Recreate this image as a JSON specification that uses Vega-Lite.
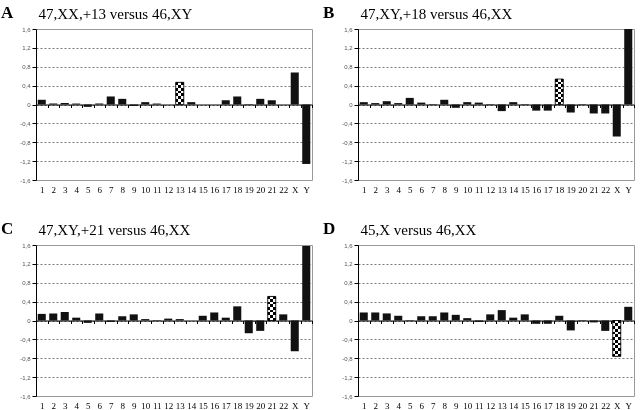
{
  "$schema": "https://vega.github.io/schema/vega-lite/v6.json",
  "autosize": {"type": "pad"},
  "padding": {"left": 0, "top": 3, "right": 0, "bottom": 0},
  "background": "white",
  "datasets": {
    "A": [
      {"chr": "1", "v": 0.10}, {"chr": "2", "v": 0.02}, {"chr": "3", "v": 0.03}, {"chr": "4", "v": 0.02},
      {"chr": "5", "v": -0.05}, {"chr": "6", "v": 0.02}, {"chr": "7", "v": 0.17}, {"chr": "8", "v": 0.12},
      {"chr": "9", "v": -0.03}, {"chr": "10", "v": 0.05}, {"chr": "11", "v": 0.02}, {"chr": "12", "v": 0.0},
      {"chr": "13", "v": 0.47}, {"chr": "14", "v": 0.05}, {"chr": "15", "v": 0.0}, {"chr": "16", "v": 0.0},
      {"chr": "17", "v": 0.09}, {"chr": "18", "v": 0.17}, {"chr": "19", "v": -0.01}, {"chr": "20", "v": 0.12},
      {"chr": "21", "v": 0.09}, {"chr": "22", "v": 0.0}, {"chr": "X", "v": 0.68}, {"chr": "Y", "v": -1.26}
    ],
    "B": [
      {"chr": "1", "v": 0.05}, {"chr": "2", "v": 0.03}, {"chr": "3", "v": 0.07}, {"chr": "4", "v": 0.03},
      {"chr": "5", "v": 0.14}, {"chr": "6", "v": 0.04}, {"chr": "7", "v": 0.01}, {"chr": "8", "v": 0.10},
      {"chr": "9", "v": -0.07}, {"chr": "10", "v": 0.05}, {"chr": "11", "v": 0.04}, {"chr": "12", "v": 0.01},
      {"chr": "13", "v": -0.14}, {"chr": "14", "v": 0.05}, {"chr": "15", "v": 0.01}, {"chr": "16", "v": -0.13},
      {"chr": "17", "v": -0.13}, {"chr": "18", "v": 0.54}, {"chr": "19", "v": -0.17}, {"chr": "20", "v": 0.01},
      {"chr": "21", "v": -0.19}, {"chr": "22", "v": -0.19}, {"chr": "X", "v": -0.68}, {"chr": "Y", "v": 1.6}
    ],
    "C": [
      {"chr": "1", "v": 0.14}, {"chr": "2", "v": 0.15}, {"chr": "3", "v": 0.18}, {"chr": "4", "v": 0.06},
      {"chr": "5", "v": -0.05}, {"chr": "6", "v": 0.15}, {"chr": "7", "v": -0.03}, {"chr": "8", "v": 0.09},
      {"chr": "9", "v": 0.13}, {"chr": "10", "v": 0.03}, {"chr": "11", "v": 0.01}, {"chr": "12", "v": 0.04},
      {"chr": "13", "v": 0.03}, {"chr": "14", "v": 0.0}, {"chr": "15", "v": 0.10}, {"chr": "16", "v": 0.17},
      {"chr": "17", "v": 0.06}, {"chr": "18", "v": 0.30}, {"chr": "19", "v": -0.27}, {"chr": "20", "v": -0.22},
      {"chr": "21", "v": 0.51}, {"chr": "22", "v": 0.13}, {"chr": "X", "v": -0.65}, {"chr": "Y", "v": 1.58}
    ],
    "D": [
      {"chr": "1", "v": 0.17}, {"chr": "2", "v": 0.17}, {"chr": "3", "v": 0.15}, {"chr": "4", "v": 0.10},
      {"chr": "5", "v": -0.01}, {"chr": "6", "v": 0.09}, {"chr": "7", "v": 0.09}, {"chr": "8", "v": 0.17},
      {"chr": "9", "v": 0.12}, {"chr": "10", "v": 0.05}, {"chr": "11", "v": -0.03}, {"chr": "12", "v": 0.13},
      {"chr": "13", "v": 0.22}, {"chr": "14", "v": 0.06}, {"chr": "15", "v": 0.13}, {"chr": "16", "v": -0.07},
      {"chr": "17", "v": -0.07}, {"chr": "18", "v": 0.10}, {"chr": "19", "v": -0.21}, {"chr": "20", "v": 0.01},
      {"chr": "21", "v": -0.04}, {"chr": "22", "v": -0.22}, {"chr": "X", "v": -0.76}, {"chr": "Y", "v": 0.29}
    ]
  },
  "columns": 2,
  "spacing": {"row": 65, "column": 46},
  "bounds": "flush",
  "concat": [
    {
      "width": 276, "height": 151,
      "data": {"name": "A"},
      "title": {"text": "A", "subtitle": "\u200b\u00a0\u00a0\u00a0\u00a0\u00a0\u00a0\u00a0\u00a0\u00a0\u00a047,XX,+13 versus 46,XY"},
      "encoding": {
        "x": {"field": "chr", "type": "ordinal", "sort": null, "scale": {"domain": ["1","2","3","4","5","6","7","8","9","10","11","12","13","14","15","16","17","18","19","20","21","22","X","Y"], "paddingInner": 0, "paddingOuter": 0}, "axis": {"title": null}},
        "y": {"field": "v", "type": "quantitative", "scale": {"domain": [-1.6, 1.6], "nice": false, "zero": false}, "axis": {"title": null, "values": [-1.6, -1.2, -0.8, -0.4, 0, 0.4, 0.8, 1.2, 1.6], "labelExpr": "datum.value == 0 ? '0' : (datum.value < 0 ? '-' : '') + replace(format(abs(datum.value), '.1f'), '.', ',')", "gridOpacity": {"condition": {"test": "abs(datum.value) > 1.5", "value": 0}, "value": 1}}}
      },
      "layer": [
        {"mark": {"type": "bar", "color": "#111", "width": {"band": 0.7}}},
        {"transform": [{"filter": "datum.chr == '13'"}],
         "mark": {"type": "bar", "width": {"band": 0.7}, "fill": {"gradient": "linear", "x1": 0, "y1": 0, "x2": 0, "y2": 1, "stops": [
           {"offset": 0, "color": "#000"}, {"offset": 0.125, "color": "#000"}, {"offset": 0.125, "color": "#fff"}, {"offset": 0.25, "color": "#fff"},
           {"offset": 0.25, "color": "#000"}, {"offset": 0.375, "color": "#000"}, {"offset": 0.375, "color": "#fff"}, {"offset": 0.5, "color": "#fff"},
           {"offset": 0.5, "color": "#000"}, {"offset": 0.625, "color": "#000"}, {"offset": 0.625, "color": "#fff"}, {"offset": 0.75, "color": "#fff"},
           {"offset": 0.75, "color": "#000"}, {"offset": 0.875, "color": "#000"}, {"offset": 0.875, "color": "#fff"}, {"offset": 1, "color": "#fff"}]}}},
        {"transform": [{"filter": "datum.chr == '13'"}],
         "mark": {"type": "bar", "width": {"band": 0.7}, "blend": "difference", "fill": {"gradient": "linear", "x1": 0, "y1": 0, "x2": 1, "y2": 0, "stops": [
           {"offset": 0, "color": "#000"}, {"offset": 0.3333, "color": "#000"}, {"offset": 0.3333, "color": "#fff"}, {"offset": 0.6667, "color": "#fff"}, {"offset": 0.6667, "color": "#000"}, {"offset": 1, "color": "#000"}]}}},
        {"transform": [{"filter": "datum.chr == '13'"}],
         "mark": {"type": "bar", "width": {"band": 0.7}, "fillOpacity": 0, "stroke": "#000", "strokeWidth": 0.8}}
      ]
    },
    {
      "width": 276, "height": 151,
      "data": {"name": "B"},
      "title": {"text": "B", "subtitle": "\u200b\u00a0\u00a0\u00a0\u00a0\u00a0\u00a0\u00a0\u00a0\u00a0\u00a047,XY,+18 versus 46,XX"},
      "encoding": {
        "x": {"field": "chr", "type": "ordinal", "sort": null, "scale": {"domain": ["1","2","3","4","5","6","7","8","9","10","11","12","13","14","15","16","17","18","19","20","21","22","X","Y"], "paddingInner": 0, "paddingOuter": 0}, "axis": {"title": null}},
        "y": {"field": "v", "type": "quantitative", "scale": {"domain": [-1.6, 1.6], "nice": false, "zero": false}, "axis": {"title": null, "values": [-1.6, -1.2, -0.8, -0.4, 0, 0.4, 0.8, 1.2, 1.6], "labelExpr": "datum.value == 0 ? '0' : (datum.value < 0 ? '-' : '') + replace(format(abs(datum.value), '.1f'), '.', ',')", "gridOpacity": {"condition": {"test": "abs(datum.value) > 1.5", "value": 0}, "value": 1}}}
      },
      "layer": [
        {"mark": {"type": "bar", "color": "#111", "width": {"band": 0.7}}},
        {"transform": [{"filter": "datum.chr == '18'"}],
         "mark": {"type": "bar", "width": {"band": 0.7}, "fill": {"gradient": "linear", "x1": 0, "y1": 0, "x2": 0, "y2": 1, "stops": [
           {"offset": 0, "color": "#000"}, {"offset": 0.1, "color": "#000"}, {"offset": 0.1, "color": "#fff"}, {"offset": 0.2, "color": "#fff"},
           {"offset": 0.2, "color": "#000"}, {"offset": 0.3, "color": "#000"}, {"offset": 0.3, "color": "#fff"}, {"offset": 0.4, "color": "#fff"},
           {"offset": 0.4, "color": "#000"}, {"offset": 0.5, "color": "#000"}, {"offset": 0.5, "color": "#fff"}, {"offset": 0.6, "color": "#fff"},
           {"offset": 0.6, "color": "#000"}, {"offset": 0.7, "color": "#000"}, {"offset": 0.7, "color": "#fff"}, {"offset": 0.8, "color": "#fff"},
           {"offset": 0.8, "color": "#000"}, {"offset": 0.9, "color": "#000"}, {"offset": 0.9, "color": "#fff"}, {"offset": 1, "color": "#fff"}]}}},
        {"transform": [{"filter": "datum.chr == '18'"}],
         "mark": {"type": "bar", "width": {"band": 0.7}, "blend": "difference", "fill": {"gradient": "linear", "x1": 0, "y1": 0, "x2": 1, "y2": 0, "stops": [
           {"offset": 0, "color": "#000"}, {"offset": 0.3333, "color": "#000"}, {"offset": 0.3333, "color": "#fff"}, {"offset": 0.6667, "color": "#fff"}, {"offset": 0.6667, "color": "#000"}, {"offset": 1, "color": "#000"}]}}},
        {"transform": [{"filter": "datum.chr == '18'"}],
         "mark": {"type": "bar", "width": {"band": 0.7}, "fillOpacity": 0, "stroke": "#000", "strokeWidth": 0.8}}
      ]
    },
    {
      "width": 276, "height": 151,
      "data": {"name": "C"},
      "title": {"text": "C", "subtitle": "\u200b\u00a0\u00a0\u00a0\u00a0\u00a0\u00a0\u00a0\u00a0\u00a0\u00a047,XY,+21 versus 46,XX"},
      "encoding": {
        "x": {"field": "chr", "type": "ordinal", "sort": null, "scale": {"domain": ["1","2","3","4","5","6","7","8","9","10","11","12","13","14","15","16","17","18","19","20","21","22","X","Y"], "paddingInner": 0, "paddingOuter": 0}, "axis": {"title": null}},
        "y": {"field": "v", "type": "quantitative", "scale": {"domain": [-1.6, 1.6], "nice": false, "zero": false}, "axis": {"title": null, "values": [-1.6, -1.2, -0.8, -0.4, 0, 0.4, 0.8, 1.2, 1.6], "labelExpr": "datum.value == 0 ? '0' : (datum.value < 0 ? '-' : '') + replace(format(abs(datum.value), '.1f'), '.', ',')", "gridOpacity": {"condition": {"test": "abs(datum.value) > 1.5", "value": 0}, "value": 1}}}
      },
      "layer": [
        {"mark": {"type": "bar", "color": "#111", "width": {"band": 0.7}}},
        {"transform": [{"filter": "datum.chr == '21'"}],
         "mark": {"type": "bar", "width": {"band": 0.7}, "fill": {"gradient": "linear", "x1": 0, "y1": 0, "x2": 0, "y2": 1, "stops": [
           {"offset": 0, "color": "#000"}, {"offset": 0.1111, "color": "#000"}, {"offset": 0.1111, "color": "#fff"}, {"offset": 0.2222, "color": "#fff"},
           {"offset": 0.2222, "color": "#000"}, {"offset": 0.3333, "color": "#000"}, {"offset": 0.3333, "color": "#fff"}, {"offset": 0.4444, "color": "#fff"},
           {"offset": 0.4444, "color": "#000"}, {"offset": 0.5556, "color": "#000"}, {"offset": 0.5556, "color": "#fff"}, {"offset": 0.6667, "color": "#fff"},
           {"offset": 0.6667, "color": "#000"}, {"offset": 0.7778, "color": "#000"}, {"offset": 0.7778, "color": "#fff"}, {"offset": 0.8889, "color": "#fff"},
           {"offset": 0.8889, "color": "#000"}, {"offset": 1, "color": "#000"}]}}},
        {"transform": [{"filter": "datum.chr == '21'"}],
         "mark": {"type": "bar", "width": {"band": 0.7}, "blend": "difference", "fill": {"gradient": "linear", "x1": 0, "y1": 0, "x2": 1, "y2": 0, "stops": [
           {"offset": 0, "color": "#000"}, {"offset": 0.3333, "color": "#000"}, {"offset": 0.3333, "color": "#fff"}, {"offset": 0.6667, "color": "#fff"}, {"offset": 0.6667, "color": "#000"}, {"offset": 1, "color": "#000"}]}}},
        {"transform": [{"filter": "datum.chr == '21'"}],
         "mark": {"type": "bar", "width": {"band": 0.7}, "fillOpacity": 0, "stroke": "#000", "strokeWidth": 0.8}}
      ]
    },
    {
      "width": 276, "height": 151,
      "data": {"name": "D"},
      "title": {"text": "D", "subtitle": "\u200b\u00a0\u00a0\u00a0\u00a0\u00a0\u00a0\u00a0\u00a0\u00a0\u00a045,X versus 46,XX"},
      "encoding": {
        "x": {"field": "chr", "type": "ordinal", "sort": null, "scale": {"domain": ["1","2","3","4","5","6","7","8","9","10","11","12","13","14","15","16","17","18","19","20","21","22","X","Y"], "paddingInner": 0, "paddingOuter": 0}, "axis": {"title": null}},
        "y": {"field": "v", "type": "quantitative", "scale": {"domain": [-1.6, 1.6], "nice": false, "zero": false}, "axis": {"title": null, "values": [-1.6, -1.2, -0.8, -0.4, 0, 0.4, 0.8, 1.2, 1.6], "labelExpr": "datum.value == 0 ? '0' : (datum.value < 0 ? '-' : '') + replace(format(abs(datum.value), '.1f'), '.', ',')", "gridOpacity": {"condition": {"test": "abs(datum.value) > 1.5", "value": 0}, "value": 1}}}
      },
      "layer": [
        {"mark": {"type": "bar", "color": "#111", "width": {"band": 0.7}}},
        {"transform": [{"filter": "datum.chr == 'X'"}],
         "mark": {"type": "bar", "width": {"band": 0.7}, "fill": {"gradient": "linear", "x1": 0, "y1": 0, "x2": 0, "y2": 1, "stops": [
           {"offset": 0, "color": "#000"}, {"offset": 0.0769, "color": "#000"}, {"offset": 0.0769, "color": "#fff"}, {"offset": 0.1538, "color": "#fff"},
           {"offset": 0.1538, "color": "#000"}, {"offset": 0.2308, "color": "#000"}, {"offset": 0.2308, "color": "#fff"}, {"offset": 0.3077, "color": "#fff"},
           {"offset": 0.3077, "color": "#000"}, {"offset": 0.3846, "color": "#000"}, {"offset": 0.3846, "color": "#fff"}, {"offset": 0.4615, "color": "#fff"},
           {"offset": 0.4615, "color": "#000"}, {"offset": 0.5385, "color": "#000"}, {"offset": 0.5385, "color": "#fff"}, {"offset": 0.6154, "color": "#fff"},
           {"offset": 0.6154, "color": "#000"}, {"offset": 0.6923, "color": "#000"}, {"offset": 0.6923, "color": "#fff"}, {"offset": 0.7692, "color": "#fff"},
           {"offset": 0.7692, "color": "#000"}, {"offset": 0.8462, "color": "#000"}, {"offset": 0.8462, "color": "#fff"}, {"offset": 0.9231, "color": "#fff"},
           {"offset": 0.9231, "color": "#000"}, {"offset": 1, "color": "#000"}]}}},
        {"transform": [{"filter": "datum.chr == 'X'"}],
         "mark": {"type": "bar", "width": {"band": 0.7}, "blend": "difference", "fill": {"gradient": "linear", "x1": 0, "y1": 0, "x2": 1, "y2": 0, "stops": [
           {"offset": 0, "color": "#000"}, {"offset": 0.3333, "color": "#000"}, {"offset": 0.3333, "color": "#fff"}, {"offset": 0.6667, "color": "#fff"}, {"offset": 0.6667, "color": "#000"}, {"offset": 1, "color": "#000"}]}}},
        {"transform": [{"filter": "datum.chr == 'X'"}],
         "mark": {"type": "bar", "width": {"band": 0.7}, "fillOpacity": 0, "stroke": "#000", "strokeWidth": 0.8}}
      ]
    }
  ],
  "config": {
    "view": {"stroke": "#999", "strokeWidth": 1},
    "title": {"anchor": "start", "frame": "group", "dx": -35, "offset": 3, "font": "Liberation Serif", "fontSize": 17, "fontWeight": "bold", "color": "#000", "subtitleFont": "Liberation Serif", "subtitleFontSize": 15, "subtitleColor": "#000", "subtitlePadding": -15},
    "axisX": {"domain": true, "domainColor": "#000", "domainWidth": 1, "offset": -75.5, "zindex": 1, "ticks": true, "tickBand": "extent", "tickSize": 3, "tickColor": "#000", "grid": false, "labelAngle": 0, "labelFont": "Liberation Serif", "labelFontSize": 9, "labelColor": "#000", "labelPadding": 78},
    "axisY": {"domain": true, "domainColor": "#000", "domainWidth": 1, "ticks": true, "tickColor": "#000", "tickSize": 4, "labelFont": "Liberation Sans", "labelFontSize": 6, "labelColor": "#555", "labelPadding": 2, "grid": true, "gridColor": "#555", "gridDash": [2, 2], "gridWidth": 0.8}
  }
}
